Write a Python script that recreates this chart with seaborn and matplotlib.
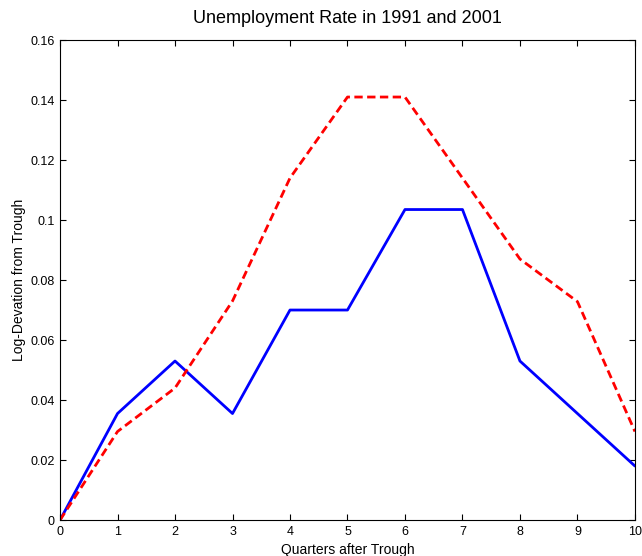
import pandas as pd
import numpy as np
import matplotlib
matplotlib.use('Agg')
import matplotlib.pyplot as plt
import seaborn as sns
from matplotlib.ticker import FuncFormatter

quarters = list(range(11))
rate_1991 = [0, 0.0355, 0.053, 0.0355, 0.070, 0.070, 0.1035, 0.1035, 0.053, 0.0355, 0.018]
rate_2001 = [0, 0.0295, 0.044, 0.073, 0.114, 0.141, 0.141, 0.114, 0.087, 0.0728, 0.0295]

sns.set_style('white')
plt.rcParams['font.family'] = ['Liberation Sans', 'DejaVu Sans']
plt.rcParams['text.color'] = 'black'
plt.rcParams['axes.labelcolor'] = 'black'
plt.rcParams['xtick.color'] = 'black'
plt.rcParams['ytick.color'] = 'black'

fig = plt.figure(figsize=(6.42, 5.56), dpi=100)
ax = fig.add_axes([0.0935, 0.0647, 0.8955, 0.8633])

sns.lineplot(x=quarters, y=rate_1991, color='blue', linewidth=2, ax=ax)
sns.lineplot(x=quarters, y=rate_2001, color='red', linewidth=2, ax=ax)
ax.lines[1].set_linestyle((0, (3, 1.6)))

ax.set_xlim(0, 10)
ax.set_ylim(0, 0.16)
ax.set_xticks(quarters)
ax.set_yticks(np.arange(0, 0.161, 0.02))
ax.yaxis.set_major_formatter(FuncFormatter(lambda v, p: '%g' % round(v, 2)))

ax.tick_params(direction='in', length=4, width=0.8, labelsize=9,
               top=True, right=True, bottom=True, left=True, pad=4)
for s in ax.spines.values():
    s.set_color('black')
    s.set_linewidth(0.8)

ax.set_title('Unemployment Rate in 1991 and 2001', fontsize=13, pad=12)
ax.set_xlabel('Quarters after Trough', fontsize=10, labelpad=4)
ax.set_ylabel('Log-Devation from Trough', fontsize=10, labelpad=3)

fig.savefig('out.png', dpi=100)
